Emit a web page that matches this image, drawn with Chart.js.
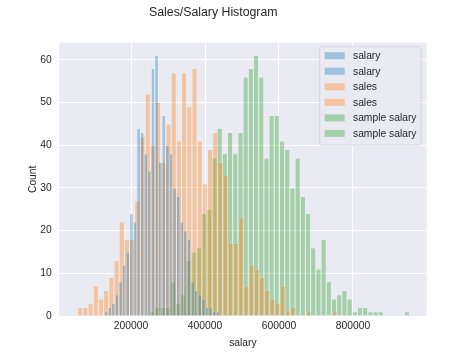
<!DOCTYPE html>
<html>
<head>
<meta charset="utf-8">
<script src="https://cdn.jsdelivr.net/npm/chart.js@4.4.1/dist/chart.umd.min.js"></script>
<style>
html,body{margin:0;padding:0;background:#ffffff;}
#wrap{width:474px;height:355px;position:relative;}
</style>
</head>
<body>
<div id="wrap"><canvas id="c" width="474" height="355"></canvas></div>
<script>
// ---------------- data ----------------
const chartTitle = 'Sales/Salary Histogram';
const xAxisLabel = 'salary';
const yAxisLabel = 'Count';
const seriesNames = ['salary', 'sales', 'sample salary'];

const salaryBinStart = 128000;
const salaryBinWidth = 9730;
const salaryCounts = [1,2,3,5,8,12,15,24,22,44,43,38,34,58,61,36,47,40,38,30,28,22,20,18,8,6,5,4,2,2,1,1];

const salesBinStart = 55500;
const salesBinWidth = 14050;
const salesCounts = [2,2,3,7,4,6,9,13,22,18,18,27,42,52,40,50,36,45,57,41,57,49,58,41,31,39,43,36,33,17,17,23,7,12,11,9,6,4,3,7,1,2,0,0,1,0,0,0,0,1];

const sampleBinStart = 250000;
const sampleBinWidth = 14050;
const sampleCounts = [1,2,2,2,8,3,5,13,15,16,24,25,37,44,38,43,38,43,56,58,61,56,37,47,47,41,39,30,37,28,24,16,11,18,8,4,5,6,4,1,2,2,1,1,1,0,0,0,0,1];

const xTicks = [200000, 400000, 600000, 800000];
const yTicks = [0, 10, 20, 30, 40, 50, 60];
const xMin = 6000, xMax = 999000;
const yMin = 0, yMax = 64.05;

// ---------------- helpers ----------------
function histPoints(start, width, counts) {
  return counts.map((c, i) => ({ x: start + (i + 0.5) * width, y: c }));
}
const TEXT = '#262626';
const FONT = "'Liberation Sans', Arial, Helvetica, sans-serif";
Chart.defaults.font.family = FONT;
Chart.defaults.color = TEXT;

const seriesColors = ['rgba(31,119,180,0.36)', 'rgba(255,127,14,0.36)', 'rgba(44,160,44,0.36)'];
const binWidths = [salaryBinWidth, salesBinWidth, sampleBinWidth];

const bgPlugin = {
  id: 'axesBg',
  beforeDraw(chart) {
    const a = chart.chartArea, ctx = chart.ctx;
    ctx.save();
    ctx.fillStyle = '#EAEAF2';
    ctx.fillRect(a.left, a.top, a.right - a.left, a.bottom - a.top);
    ctx.restore();
  }
};

const legendPlugin = {
  id: 'boxLegend',
  afterDatasetsDraw(chart) {
    const ctx = chart.ctx, a = chart.chartArea;
    const items = [];
    chart.data.datasets.forEach(ds => { items.push(ds); items.push(ds); });
    ctx.save();
    ctx.font = '10.3px ' + FONT;
    let maxW = 0;
    items.forEach(it => { maxW = Math.max(maxW, ctx.measureText(it.label).width); });
    const w = 5 + 20 + 8.3 + maxW + 4.5;
    const rowH = 15.55;
    const h = 9 + (items.length - 1) * rowH + 11.6;
    const right = a.right - 5.6;
    const left = right - w;
    const top = a.top + 4.1;
    ctx.beginPath();
    if (ctx.roundRect) ctx.roundRect(left, top, w, h, 2); else ctx.rect(left, top, w, h);
    ctx.fillStyle = 'rgba(234,234,242,0.8)';
    ctx.fill();
    ctx.lineWidth = 0.8;
    ctx.strokeStyle = 'rgba(204,204,204,0.9)';
    ctx.stroke();
    items.forEach((it, i) => {
      const cy = top + 9 + i * rowH;
      ctx.fillStyle = it.backgroundColor;
      ctx.fillRect(left + 5, cy - 3.5, 20, 7);
      ctx.fillStyle = TEXT;
      ctx.textBaseline = 'middle';
      ctx.textAlign = 'left';
      ctx.fillText(it.label, left + 33.3, cy + 0.5);
    });
    ctx.restore();
  }
};

const seriesData = [
  histPoints(salaryBinStart, salaryBinWidth, salaryCounts),
  histPoints(salesBinStart, salesBinWidth, salesCounts),
  histPoints(sampleBinStart, sampleBinWidth, sampleCounts)
];

const config = {
  type: 'bar',
  data: {
    datasets: seriesNames.map((name, i) => ({
      label: name,
      data: seriesData[i],
      backgroundColor: seriesColors[i],
      borderColor: 'rgba(255,255,255,0.45)',
      borderWidth: { left: 0.5, right: 0.5, top: 0.5, bottom: 0 },
      borderSkipped: 'start',
      grouped: false,
      barThickness: 4,
      inflateAmount: 0
    }))
  },
  options: {
    responsive: false,
    animation: false,
    events: [],
    devicePixelRatio: 1,
    layout: { padding: { left: 0, right: 47.4, top: 0, bottom: 0 } },
    plugins: {
      legend: { display: false },
      tooltip: { enabled: false },
      title: {
        display: true,
        text: chartTitle,
        color: TEXT,
        font: { size: 12.3, weight: 'normal', lineHeight: 1.2 },
        padding: { top: 5.6, bottom: 22.24 }
      }
    },
    scales: {
      x: {
        type: 'linear',
        position: 'bottom',
        min: xMin,
        max: xMax,
        offset: false,
        grid: { color: '#ffffff', lineWidth: 1, drawTicks: false, offset: false },
        border: { display: false },
        afterBuildTicks: s => { s.ticks = xTicks.map(v => ({ value: v })); },
        afterFit: s => { s.height = 39; },
        ticks: {
          padding: 4,
          color: TEXT,
          font: { size: 10.3 },
          maxRotation: 0,
          autoSkip: false,
          callback: v => String(v)
        },
        title: {
          display: true,
          text: xAxisLabel,
          color: TEXT,
          font: { size: 10.3, lineHeight: 1.2 },
          padding: { top: 0, bottom: 5.8 }
        }
      },
      y: {
        type: 'linear',
        position: 'left',
        min: yMin,
        max: yMax,
        grid: { color: '#ffffff', lineWidth: 1, drawTicks: false },
        border: { display: false },
        afterBuildTicks: s => { s.ticks = yTicks.map(v => ({ value: v })); },
        afterFit: s => { s.width = 59.25; },
        ticks: {
          padding: 7.5,
          color: TEXT,
          font: { size: 10.3 },
          autoSkip: false,
          callback: v => String(v)
        },
        title: {
          display: true,
          text: yAxisLabel,
          color: TEXT,
          font: { size: 10.3, lineHeight: 1.2 },
          padding: { top: 26.8, bottom: 0 }
        }
      }
    }
  },
  plugins: [bgPlugin, legendPlugin]
};

const chart = new Chart(document.getElementById('c'), config);
// bar thickness = bin width converted to pixels by the library's x scale
const xs = chart.scales.x;
chart.data.datasets.forEach((ds, i) => {
  ds.barThickness = Math.abs(xs.getPixelForValue(xMin + binWidths[i]) - xs.getPixelForValue(xMin));
});
chart.update('none');
</script>
</body>
</html>
